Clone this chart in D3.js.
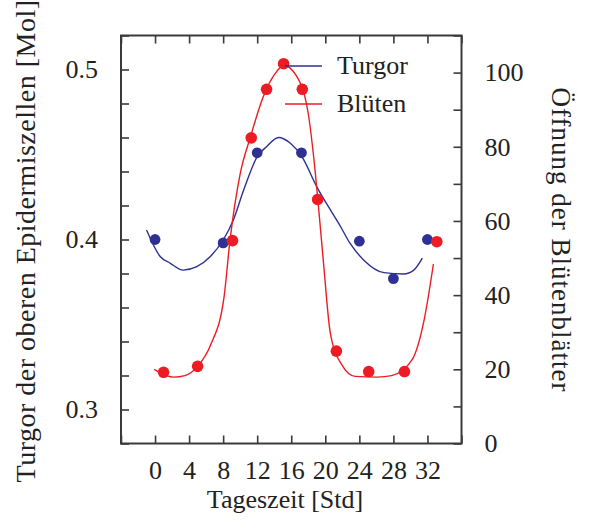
<!DOCTYPE html>
<html>
<head>
<meta charset="utf-8">
<script src="https://cdn.jsdelivr.net/npm/d3@7"></script>
<style>
  body { margin: 0; background: #fff; }
  svg text { font-family: "Liberation Serif", serif; fill: #222; }
</style>
</head>
<body>
<svg></svg>
<script>
var width = 591, height = 532;
var frame = { left: 121, right: 461.5, top: 35.5, bottom: 443.5 };

// measured points
var turgorHours = [0, 8, 12, 17.2, 24, 28, 32];
var turgorValues = [0.400, 0.398, 0.451, 0.451, 0.399, 0.377, 0.400];
var bluetenHours = [1, 5, 9.1, 11.3, 13.1, 15.1, 17.3, 19.1, 21.3, 25.1, 29.3, 33.1];
var bluetenValues = [19.2, 20.8, 54.7, 82.4, 95.5, 102.4, 95.5, 65.8, 24.9, 19.4, 19.4, 54.4];

// fitted curves
var turgorFitHours = [-1, 0.6, 1.8, 3.3, 4.9, 6.5, 8.0, 9.2, 10.4, 12.0, 13.1, 14.5, 15.9, 17.25, 19.0, 20.6, 21.8, 22.9, 24.5, 26.9, 29.2, 30.4, 31.4];
var turgorFitValues = [0.4056, 0.390, 0.386, 0.382, 0.384, 0.390, 0.3997, 0.4115, 0.429, 0.4487, 0.4546, 0.460, 0.4566, 0.4487, 0.431, 0.4174, 0.4075, 0.3978, 0.388, 0.3805, 0.3797, 0.382, 0.389];
var bluetenFitHours = [-0.1, 2.2, 3.5, 5.0, 6.5, 8.1, 8.8, 10.0, 11.2, 12.7, 14.1, 15.1, 17.1, 18.0, 18.8, 19.4, 19.8, 20.6, 22.0, 23.5, 26.1, 27.8, 30.2, 31.6, 32.7];
var bluetenFitValues = [20.0, 17.9, 18.3, 20.8, 26.4, 39.4, 54.7, 72.7, 82.6, 93.4, 99.7, 101.9, 97, 88.9, 73.6, 58.7, 48.4, 29.6, 21.0, 18.1, 17.9, 18.3, 22.6, 33.2, 48.4];

var xTicks = d3.range(-4, 37, 4);
var xLabels = [0, 4, 8, 12, 16, 20, 24, 28, 32];
var leftTicks = d3.range(0.28, 0.521, 0.02);
var leftLabels = [0.3, 0.4, 0.5];
var rightTicks = d3.range(0, 111, 10);
var rightLabels = [0, 20, 40, 60, 80, 100];

var seriesNames = ['Turgor', 'Blüten'];
var blue = '#2e3192', red = '#ed1c24';

var x = d3.scaleLinear().domain([-4, 36]).range([frame.left, frame.right]);
var yL = d3.scaleLinear().domain([0.28, 0.52]).range([frame.bottom, frame.top]);
var yR = d3.scaleLinear().domain([0, 110]).range([frame.bottom, frame.top]);

var svg = d3.select('svg').attr('width', width).attr('height', height);

function near(list, v) {
  return list.some(function (l) { return Math.abs(l - v) < 1e-6; });
}

// axes with inward ticks
var gx = svg.append('g')
  .attr('transform', 'translate(0,' + frame.bottom + ')')
  .call(d3.axisBottom(x).tickValues(xTicks).tickSize(-8).tickPadding(17)
    .tickFormat(function (d) { return near(xLabels, d) ? d : ''; }));
var gxTop = svg.append('g')
  .attr('transform', 'translate(0,' + frame.top + ')')
  .call(d3.axisTop(x).tickValues(xTicks).tickSize(-8).tickFormat(''));
var gl = svg.append('g')
  .attr('transform', 'translate(' + frame.left + ',0)')
  .call(d3.axisLeft(yL).tickValues(leftTicks).tickSize(-8).tickPadding(23)
    .tickFormat(function (d) { return near(leftLabels, d) ? d3.format('.1f')(d) : ''; }));
var gr = svg.append('g')
  .attr('transform', 'translate(' + frame.right + ',0)')
  .call(d3.axisRight(yR).tickValues(rightTicks).tickSize(-8).tickPadding(23)
    .tickFormat(function (d) { return near(rightLabels, d) ? d : ''; }));

[gx, gxTop, gl, gr].forEach(function (g) {
  g.select('.domain').remove();
  g.selectAll('line').attr('stroke', '#3a3a3a').attr('stroke-width', 1.6);
  g.selectAll('text').attr('font-size', 26).attr('font-family', '"Liberation Serif", serif').attr('fill', '#222');
});

svg.append('rect')
  .attr('x', frame.left).attr('y', frame.top)
  .attr('width', frame.right - frame.left).attr('height', frame.bottom - frame.top)
  .attr('fill', 'none').attr('stroke', '#3a3a3a').attr('stroke-width', 2);

// axis titles
svg.append('text')
  .attr('transform', 'translate(' + 285 + ',' + 508 + ')')
  .attr('text-anchor', 'middle').attr('font-size', 26)
  .text('Tageszeit [Std]');
svg.append('text')
  .attr('transform', 'translate(35,241) rotate(-90)')
  .attr('text-anchor', 'middle').attr('font-size', 28).attr('letter-spacing', 0.5)
  .text('Turgor der oberen Epidermiszellen [Mol]');
svg.append('text')
  .attr('transform', 'translate(552,240) rotate(90)')
  .attr('text-anchor', 'middle').attr('font-size', 27).attr('letter-spacing', 1)
  .text('Öffnung der Blütenblätter');

// curves
var turgorFit = turgorFitHours.map(function (h, i) { return [h, turgorFitValues[i]]; });
var bluetenFit = bluetenFitHours.map(function (h, i) { return [h, bluetenFitValues[i]]; });

svg.append('path').datum(turgorFit)
  .attr('fill', 'none').attr('stroke', blue).attr('stroke-width', 1.4)
  .attr('d', d3.line().x(function (d) { return x(d[0]); }).y(function (d) { return yL(d[1]); }).curve(d3.curveMonotoneX));
svg.append('path').datum(bluetenFit)
  .attr('fill', 'none').attr('stroke', red).attr('stroke-width', 1.4)
  .attr('d', d3.line().x(function (d) { return x(d[0]); }).y(function (d) { return yR(d[1]); }).curve(d3.curveMonotoneX));

// points
svg.selectAll('circle.turgor')
  .data(turgorHours)
  .enter().append('circle')
  .attr('class', 'turgor')
  .attr('cx', function (d) { return x(d); })
  .attr('cy', function (d, i) { return yL(turgorValues[i]); })
  .attr('r', 5.4).attr('fill', blue);
svg.selectAll('circle.blueten')
  .data(bluetenHours)
  .enter().append('circle')
  .attr('class', 'blueten')
  .attr('cx', function (d) { return x(d); })
  .attr('cy', function (d, i) { return yR(bluetenValues[i]); })
  .attr('r', 5.8).attr('fill', red);

// legend
var legend = svg.append('g');
seriesNames.forEach(function (name, i) {
  var ly = 66 + i * 38;
  legend.append('line')
    .attr('x1', 285).attr('x2', 322).attr('y1', ly).attr('y2', ly)
    .attr('stroke', i === 0 ? blue : red).attr('stroke-width', 1.4);
  legend.append('text')
    .attr('x', 337).attr('y', ly + 8)
    .attr('font-size', 26)
    .text(name);
});
</script>
</body>
</html>
